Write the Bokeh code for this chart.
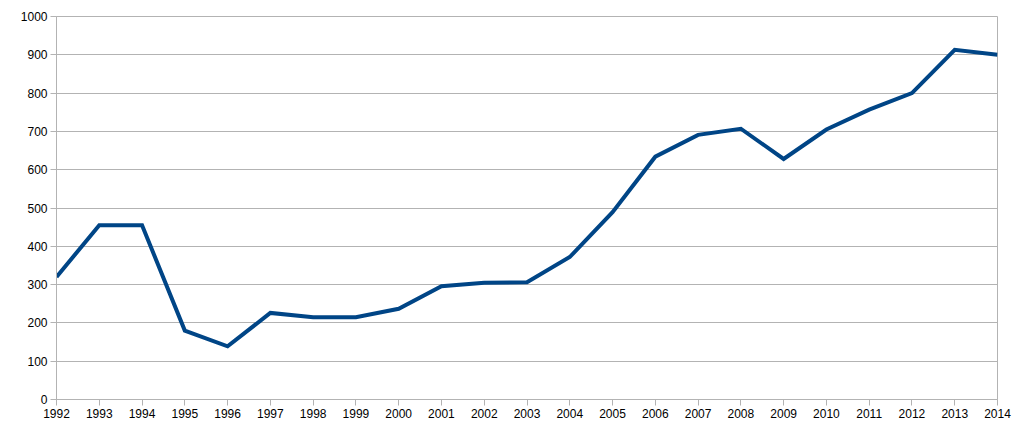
from bokeh.plotting import figure
from bokeh.models import FixedTicker, Range1d, ColumnDataSource
from bokeh.embed import file_html
from bokeh.resources import INLINE

years = list(range(1992, 2015))
values = [320, 455, 455, 180, 139, 226, 215, 215, 237, 296, 305, 306,
          372, 489, 634, 691, 707, 628, 705, 757, 800, 913, 900]
y_ticks = list(range(0, 1001, 100))

src = ColumnDataSource(dict(year=years, value=values))

p = figure(width=1023, height=424, output_backend="svg", toolbar_location=None,
           x_range=Range1d(1992, 2014), y_range=Range1d(0, 1000),
           min_border_left=56, min_border_right=26, min_border_top=16, min_border_bottom=25)

p.line("year", "value", source=src, line_color="#004586", line_width=4, line_join="miter")

grey = "#b3b3b3"
p.xaxis.ticker = FixedTicker(ticks=years)
p.yaxis.ticker = FixedTicker(ticks=y_ticks)
for ax in (p.xaxis, p.yaxis):
    ax.axis_line_color = grey
    ax.major_tick_line_color = grey
    ax.minor_tick_line_color = None
    ax.major_tick_out = 6
    ax.major_tick_in = 0
    ax.major_label_text_font = "Liberation Sans"
    ax.major_label_text_font_size = "12px"
    ax.major_label_text_color = "#000000"
p.xaxis.major_label_standoff = 3
p.yaxis.major_label_standoff = 3

p.xgrid.grid_line_color = None
p.ygrid.grid_line_color = grey
p.ygrid.ticker = FixedTicker(ticks=y_ticks)
p.outline_line_color = grey
p.background_fill_color = "white"
p.border_fill_color = "white"

open("out.html", "w").write(file_html(p, INLINE))
